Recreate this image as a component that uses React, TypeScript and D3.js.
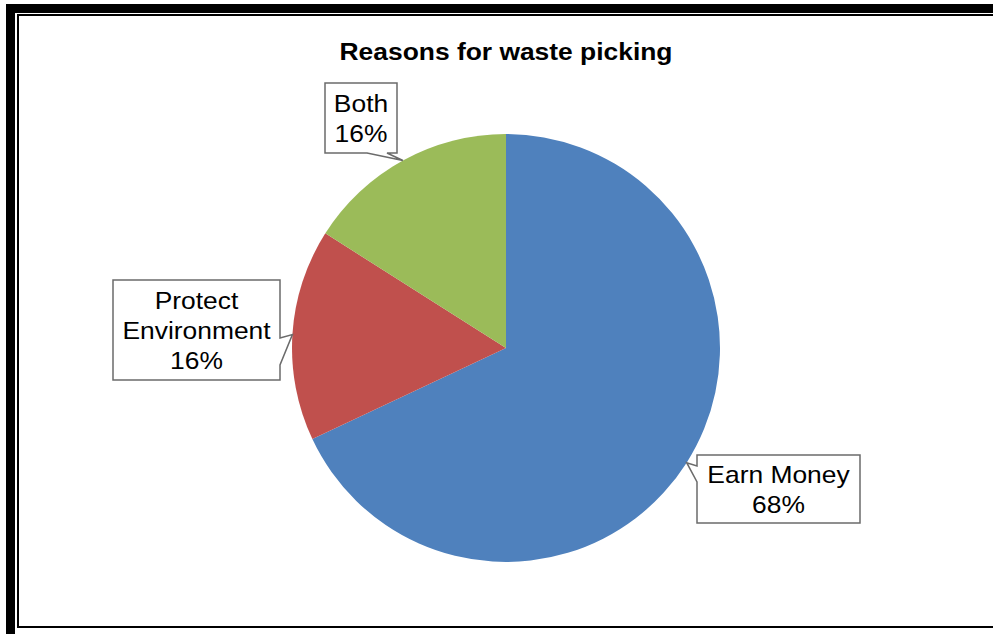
import React from "react";
import * as d3 from "d3";

const categories = ["Earn Money", "Protect Environment", "Both"];
const values = [68, 16, 16];
const valueLabels = ["68%", "16%", "16%"];
const labelLines = [["Earn Money", "68%"], ["Protect", "Environment", "16%"], ["Both", "16%"]];
const colors = ["#4f81bd", "#c0504d", "#9bbb59"];
const title = "Reasons for waste picking";

// callout layout: box rect + pointer base side
const boxes = [
  { x: 697, y: 455, w: 163, h: 68, side: "left", b0: 466, b1: 482 },
  { x: 113, y: 280, w: 167, h: 100, side: "right", b0: 338, b1: 365 },
  { x: 325, y: 83, w: 72, h: 70, side: "bottom", b0: 367, b1: 387 },
];

const W = 993;
const H = 634;
const cx = 506;
const cy = 348;
const R = 214;
const SX = 1.1;

export default function App() {
  const pie = d3.pie<number>().sort(null).value((d) => d)(values);
  const arc = d3.arc<d3.PieArcDatum<number>>().innerRadius(0).outerRadius(R);
  const font = "'Liberation Sans', Arial, sans-serif";

  return (
    <svg width={W} height={H} style={{ position: "absolute", left: 0, top: 0, background: "#fff" }}>
      <rect x={0} y={0} width={W} height={H} fill="#fff" />
      <rect x={10.5} y={8.5} width={W + 20} height={H + 20} fill="none" stroke="#000" strokeWidth={9} />
      <rect x={18} y={15} width={W + 20} height={612} fill="none" stroke="#000" strokeWidth={2} />
      <text
        transform={`translate(${cx},60) scale(${SX},1)`}
        textAnchor="middle"
        fontFamily={font}
        fontWeight="bold"
        fontSize={24}
        fill="#000"
      >
        {title}
      </text>
      <g transform={`translate(${cx},${cy})`}>
        {pie.map((p, i) => (
          <path key={categories[i]} d={arc(p) || ""} fill={colors[i]} />
        ))}
      </g>
      {pie.map((p, i) => {
        const mid = (p.startAngle + p.endAngle) / 2;
        const tx = cx + R * Math.sin(mid);
        const ty = cy - R * Math.cos(mid);
        const b = boxes[i];
        const x0 = b.x, y0 = b.y, x1 = b.x + b.w, y1 = b.y + b.h;
        let d = "";
        if (b.side === "left") {
          d = `M${x0},${y0}H${x1}V${y1}H${x0}V${b.b1}L${tx},${ty}L${x0},${b.b0}Z`;
        } else if (b.side === "right") {
          d = `M${x0},${y0}H${x1}V${b.b0}L${tx},${ty}L${x1},${b.b1}V${y1}H${x0}Z`;
        } else {
          d = `M${x0},${y0}H${x1}V${y1}H${b.b1}L${tx},${ty}L${b.b0},${y1}H${x0}Z`;
        }
        const lines = labelLines[i];
        const lh = 30;
        const midY = (y0 + y1) / 2;
        const firstBase = midY - ((lines.length - 1) * lh) / 2 + 8.6;
        return (
          <g key={"lab" + i}>
            <path d={d} fill="#fff" stroke="#6b6b6b" strokeWidth={1.5} />
            {lines.map((t, j) => (
              <text
                key={j}
                transform={`translate(${(x0 + x1) / 2},${firstBase + j * lh}) scale(${SX},1)`}
                textAnchor="middle"
                fontFamily={font}
                fontSize={24}
                fill="#000"
              >
                {t}
              </text>
            ))}
          </g>
        );
      })}
    </svg>
  );
}
